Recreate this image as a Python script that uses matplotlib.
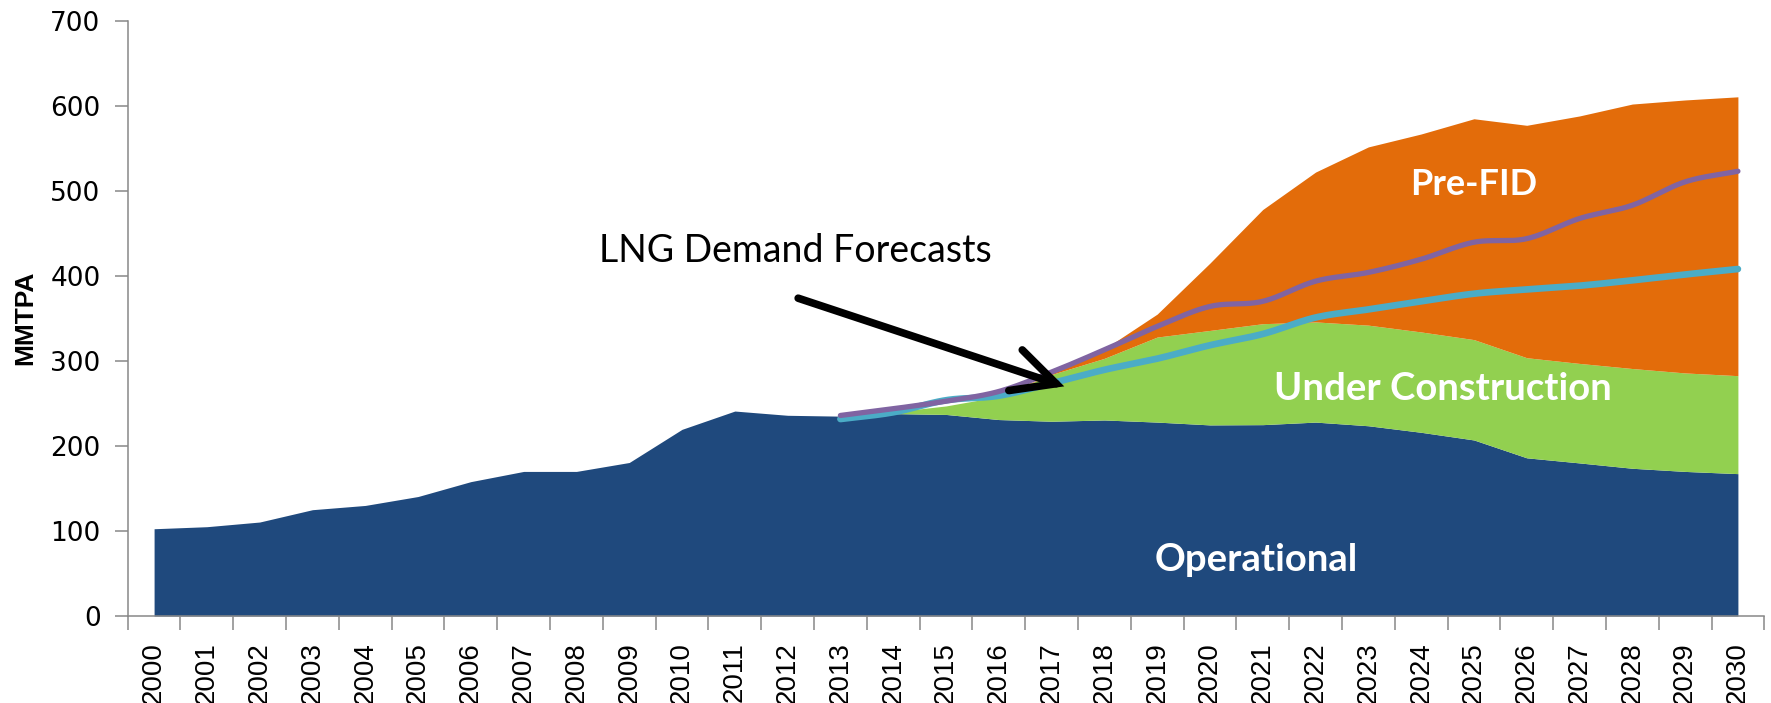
import numpy as np
import matplotlib
matplotlib.use("Agg")
import matplotlib.pyplot as plt

years = [str(y) for y in range(2000, 2031)]

operational = [102.6, 105, 110.5, 125, 130, 140.5, 158, 170, 170, 180.5,
               219.5, 241, 236, 235, 238, 237, 231, 229, 230.5, 228,
               224.7, 225, 228, 223.7, 216, 207, 186, 180, 173.7, 170, 167.4]
# top of the "Under Construction" layer (cumulative)
uc_top = [102.6, 105, 110.5, 125, 130, 140.5, 158, 170, 170, 180.5,
          219.5, 241, 236, 235, 240, 247, 258, 284, 303, 328,
          335.8, 343.7, 345.8, 342, 334, 325, 303.7, 297, 291, 285.8, 282.6]
# top of the "Pre-FID" layer (total capacity)
total = [102.6, 105, 110.5, 125, 130, 140.5, 158, 170, 170, 180.5,
         219.5, 241, 236, 235, 240, 247, 258, 285, 314, 355,
         415, 478, 522, 551.6, 566.8, 584.7, 577, 588, 602, 606.8, 610.5]

forecast_years = [str(y) for y in range(2013, 2031)]
demand_high = [235.8, 243.7, 252.6, 264, 286.8, 313, 340.5, 364, 370, 393.7,
               404, 419.5, 439.5, 443.7, 467.4, 483, 510.5, 523]
demand_low = [231.6, 239.5, 253.7, 259, 273.7, 289.5, 302.6, 318.4, 331.6, 351,
              360.5, 370, 379, 384, 388.4, 394.7, 401.6, 408]

yticks = [0, 100, 200, 300, 400, 500, 600, 700]

C_OP = "#1F497D"
C_UC = "#92D050"
C_PF = "#E36C0A"
C_HI = "#8064A2"
C_LO = "#4BACC6"
C_AX = "#888888"


def smooth(x, y, n=20):
    """Catmull-Rom curve through the given points (Excel-like smoothed line)."""
    x = np.asarray(x, float)
    y = np.asarray(y, float)
    px = np.concatenate([[2 * x[0] - x[1]], x, [2 * x[-1] - x[-2]]])
    py = np.concatenate([[2 * y[0] - y[1]], y, [2 * y[-1] - y[-2]]])
    xs, ys = [], []
    t = np.linspace(0, 1, n, endpoint=False)
    for i in range(1, len(px) - 2):
        for p, out in ((px, xs), (py, ys)):
            p0, p1, p2, p3 = p[i - 1], p[i], p[i + 1], p[i + 2]
            out.append(0.5 * ((2 * p1) + (-p0 + p2) * t
                              + (2 * p0 - 5 * p1 + 4 * p2 - p3) * t ** 2
                              + (-p0 + 3 * p1 - 3 * p2 + p3) * t ** 3))
    xs = np.concatenate(xs + [[x[-1]]])
    ys = np.concatenate(ys + [[y[-1]]])
    return xs, ys


fig = plt.figure(figsize=(17.71, 7.03), dpi=100)
ax = fig.add_axes([0.0721, 0.12376, 0.99622 - 0.0721, 0.97055 - 0.12376])

x = np.arange(len(years))
ax.fill_between(x, 0, operational, color=C_OP, lw=0)
ax.fill_between(x, operational, uc_top, color=C_UC, lw=0)
ax.fill_between(x, uc_top, total, color=C_PF, lw=0)

xf = np.array([years.index(y) for y in forecast_years])
sx, sy = smooth(xf, demand_low)
ax.plot(sx, sy, color=C_LO, lw=4.8, solid_capstyle="round", zorder=3)
sx, sy = smooth(xf, demand_high)
ax.plot(sx, sy, color=C_HI, lw=3.8, solid_capstyle="round", zorder=4)

ax.set_xlim(-0.5, len(years) - 0.5)
ax.set_ylim(0, 700)
ax.set_yticks(yticks)
ax.set_yticklabels([str(v) for v in yticks], fontsize=19, family="DejaVu Sans")
ax.set_xticks(x)
ax.set_xticklabels(years, rotation=90, fontsize=20, family="Liberation Sans")
ax.set_xticks(np.arange(len(years) + 1) - 0.5, minor=True)
ax.tick_params(axis="x", which="major", length=0, pad=19)
ax.tick_params(axis="x", which="minor", length=10, width=1.1, color=C_AX)
ax.tick_params(axis="y", length=9.5, width=1.1, color=C_AX, pad=10)

for s in ("top", "right"):
    ax.spines[s].set_visible(False)
for s in ("left", "bottom"):
    ax.spines[s].set_color(C_AX)
    ax.spines[s].set_linewidth(1.1)

fig.text(25 / 1771, 1 - 317.5 / 703, "MMTPA", rotation=90, fontsize=19,
         fontweight="bold", family="Liberation Sans", ha="center", va="center")

ax.text(24.99, 495, "Pre-FID", color="white", fontsize=26, fontweight="bold",
        family="Lato", ha="center", va="baseline", zorder=5)
ax.text(24.41, 254, "Under Construction", color="white", fontsize=27.5,
        fontweight="bold", family="Lato", ha="center", va="baseline", zorder=5)
ax.text(20.88, 53, "Operational", color="white", fontsize=27.5, fontweight="bold",
        family="Lato", ha="center", va="baseline", zorder=5)
ax.text(12.14, 416, "LNG Demand Forecasts", color="black", fontsize=27,
        family="Lato", ha="center", va="baseline", zorder=5)

ax.annotate("", xy=(17.24, 270), xytext=(12.2, 373.7),
            arrowprops=dict(arrowstyle="->,head_length=1.4,head_width=0.7",
                            lw=5.5, color="black", mutation_scale=22,
                            shrinkA=0, shrinkB=0, capstyle="round",
                            joinstyle="miter"),
            zorder=6)

fig.savefig("out.png", dpi=100)
